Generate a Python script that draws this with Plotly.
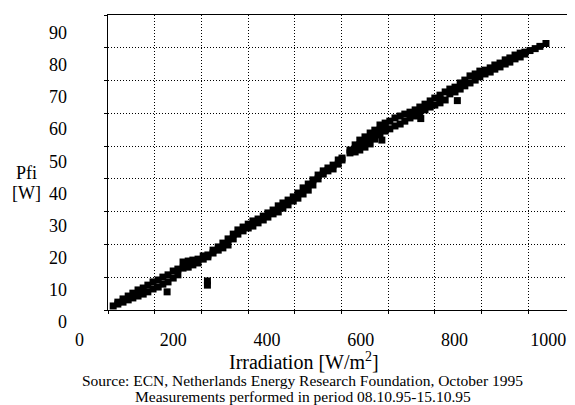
import plotly.graph_objects as go

# Scanned ECN chart: Pfi [W] against irradiation [W/m2]
irr_low = [72, 82, 82, 93, 93, 104, 104, 114, 114, 125, 125, 136, 136,
           146, 146, 157, 157, 168, 168, 178, 178, 189, 189, 200, 200,
           210, 210, 221, 221, 232, 232, 242, 242, 253, 253, 264, 264,
           274, 274, 285, 285, 296, 296, 306, 306, 317, 317, 328, 328]
pfi_low = [4.9, 6.1, 5.5, 7.1, 6.1, 8.0, 6.8, 8.9, 7.4, 9.9, 8.0, 10.5, 8.6,
           11.4, 9.3, 12.4, 10.2, 13.0, 10.8, 13.9, 11.7, 14.6, 12.4, 15.8, 13.6,
           16.4, 14.6, 18.6, 16.7, 18.9, 17.0, 19.2, 17.7, 19.5, 18.3, 20.5, 19.5,
           20.8, 20.2, 22.3, 21.4, 23.3, 22.3, 24.5, 23.0, 25.8, 23.9, 27.3, 25.8]

irr_mid = [338, 338, 349, 349, 360, 360, 370, 370, 381, 381, 392, 392,
           402, 402, 413, 413, 424, 424, 434, 434, 445, 445, 456, 456,
           466, 466, 477, 477, 488, 488, 498, 498, 509, 509, 520, 520,
           530, 530, 541, 541, 552, 552, 560, 560]
pfi_mid = [28.6, 27.3, 29.5, 28.3, 30.4, 29.2, 31.4, 29.8, 32.0, 30.8, 32.9, 31.7,
           33.9, 32.6, 34.8, 33.6, 36.1, 34.2, 37.0, 35.4, 37.9, 36.4, 38.9, 37.6,
           40.1, 38.5, 41.7, 39.8, 42.9, 41.0, 44.2, 42.6, 45.7, 44.5, 47.0, 46.0,
           47.9, 47.0, 48.8, 47.6, 50.4, 49.1, 51.0, 50.4]

irr_upmid = [577, 577, 588, 588, 588, 598, 598, 598, 609, 609, 609,
             620, 620, 620, 630, 630, 630, 641, 641, 641, 652, 652, 652,
             662, 662, 673, 673, 684, 684, 694, 694, 705, 705, 716, 716,
             726, 726, 737, 737, 748, 748, 758, 758, 769, 769, 769,
             780, 780, 790, 790, 801, 801, 812, 812]
pfi_upmid = [53.5, 52.6, 55.1, 54.0, 52.9, 56.6, 55.1, 53.5, 57.6, 56.0, 54.4,
             58.8, 57.1, 55.4, 59.7, 58.3, 56.9, 61.3, 59.7, 58.2, 61.9, 60.7, 59.4,
             62.5, 60.1, 63.5, 61.0, 64.1, 61.6, 64.7, 62.5, 65.3, 63.5, 66.0, 64.1,
             66.9, 65.0, 67.8, 66.0, 68.8, 66.9, 69.7, 67.5, 70.6, 69.4, 68.2,
             71.6, 69.1, 72.5, 71.0, 73.1, 71.6, 74.4, 72.5]

irr_high = [822, 822, 833, 833, 844, 844, 854, 854, 865, 865, 876, 876,
            886, 886, 897, 897, 908, 908, 918, 918, 929, 929, 940, 940,
            950, 950, 961, 972, 982, 995]
pfi_high = [75.3, 73.5, 76.6, 74.4, 77.2, 75.3, 78.1, 76.3, 78.4, 77.2, 79.1, 77.8,
            80.0, 78.7, 80.6, 79.4, 81.6, 80.3, 82.2, 80.9, 83.1, 81.9, 83.7, 82.5,
            84.0, 83.4, 84.5, 85.1, 85.8, 86.7]

irr_out = [187, 273, 273, 645, 728, 806]
pfi_out = [9.3, 12.7, 11.4, 56.6, 63.3, 68.9]

x_ticks = [0, 200, 400, 600, 800, 1000]
y_ticks = [0, 10, 20, 30, 40, 50, 60, 70, 80, 90]

irr = irr_low + irr_mid + irr_upmid + irr_high + irr_out
pfi = pfi_low + pfi_mid + pfi_upmid + pfi_high + pfi_out

# the page body keeps its 8px margin, so the figure starts at (8, 8)
W, H = 567, 397
serif = 'Liberation Serif, Times New Roman, serif'


def fx(px):
    return (px - 8) / W


def fy(py):
    return (H + 8 - py) / H


fig = go.Figure()
# empty trace so the gridded frame subplot gets drawn
fig.add_trace(go.Scatter(x=[], y=[], showlegend=False, hoverinfo='skip'))
fig.add_trace(go.Scatter(
    x=irr, y=pfi, mode='markers', xaxis='x2', yaxis='y2',
    marker=dict(symbol='square', size=7, color='black'),
    showlegend=False
))

# the frame and dotted grid sit where the scan put them
frame = dict(showgrid=True, gridcolor='black', griddash='1px,2px', gridwidth=1,
             showline=True, linecolor='black', linewidth=1, mirror=True,
             ticks='outside', ticklen=3, tickcolor='black',
             showticklabels=False, zeroline=False)
# the printed tick labels are shifted against the grid in the scan,
# so the data and labels live on their own axes
labels = dict(showgrid=False, showline=False, zeroline=False, ticks='',
              tickfont=dict(family=serif, size=18, color='black'), anchor='free')

fig.update_layout(
    width=W, height=H,
    margin=dict(l=0, r=0, t=0, b=0),
    paper_bgcolor='white', plot_bgcolor='rgba(0,0,0,0)',
    font=dict(family=serif, color='black'),
    xaxis=dict(domain=[fx(108), 1], range=[0, 1000], dtick=100, anchor='y', **frame),
    yaxis=dict(domain=[fy(310), fy(15)], range=[0, 90], dtick=10, anchor='x', **frame),
    xaxis2=dict(domain=[0, 1], range=[-152.3, 1056.9], tickvals=x_ticks,
                position=fy(327), **labels),
    yaxis2=dict(domain=[0, 1], range=[-25.96, 97.76], tickvals=y_ticks,
                position=fx(67), **labels),
    annotations=[
        dict(text='Pfi', x=fx(26), y=fy(173), font=dict(size=18)),
        dict(text='[W]', x=fx(26), y=fy(193), font=dict(size=18)),
        dict(text='Irradiation [W/m<sup>2</sup>]', x=fx(304), y=fy(361), font=dict(size=20)),
        dict(text='Source: ECN, Netherlands Energy Research Foundation, October 1995',
             x=fx(302), y=fy(380), font=dict(size=15.5)),
        dict(text='Measurements performed in period 08.10.95-15.10.95',
             x=fx(303), y=fy(396), font=dict(size=15.5)),
    ],
)
fig.update_annotations(xref='paper', yref='paper', showarrow=False,
                       xanchor='center', yanchor='middle')

fig.write_html('out.html')
